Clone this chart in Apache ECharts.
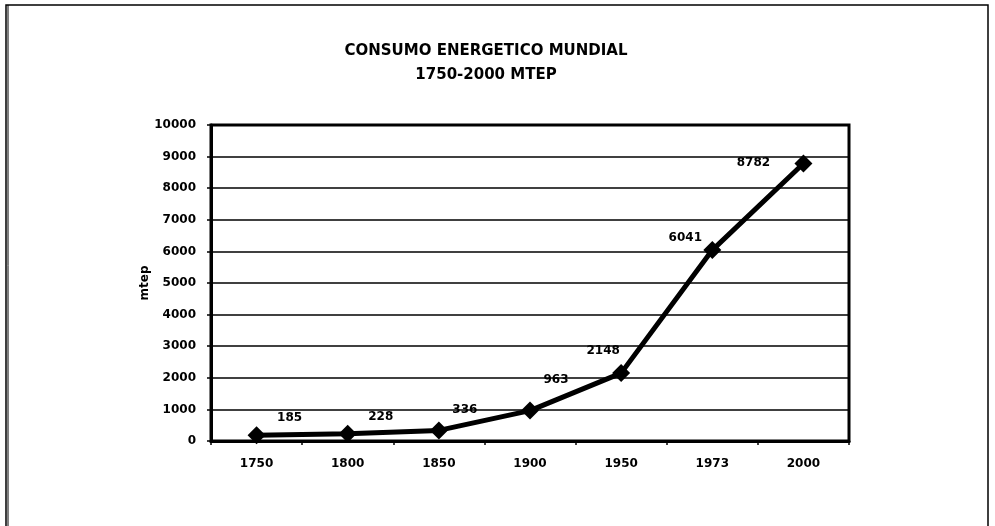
<!DOCTYPE html>
<html>
<head>
<meta charset="utf-8">
<script src="https://cdn.jsdelivr.net/npm/echarts@6/dist/echarts.min.js"></script>
<style>
  html, body { margin: 0; padding: 0; background: #fff; }
  #chart { width: 995px; height: 526px; }
</style>
</head>
<body>
<div id="chart"></div>
<script>
const years = ['1750', '1800', '1850', '1900', '1950', '1973', '2000'];
const consumo = [185, 228, 336, 963, 2148, 6041, 8782];
const yTicks = [0, 1000, 2000, 3000, 4000, 5000, 6000, 7000, 8000, 9000, 10000];

// where each value label sits relative to its marker
const labelOffsets = [[33, -17], [33, -17], [26, -21], [26, -31], [-18, -22], [-27, -12], [-50, -1]];

const chart = echarts.init(document.getElementById('chart'));

const font = 'DejaVu Sans, Arial, sans-serif';

chart.setOption({
  animation: false,
  backgroundColor: '#fff',
  textStyle: { fontFamily: font },
  title: {
    text: 'CONSUMO ENERGETICO MUNDIAL\n1750-2000 MTEP',
    left: 481,
    top: 34,
    textAlign: 'center',
    textStyle: { fontSize: 15, fontWeight: 'bold', color: '#000', lineHeight: 24, fontFamily: font }
  },
  graphic: [
    { type: 'rect', shape: { x: 6, y: 5, width: 982, height: 530 }, style: { fill: 'none', stroke: '#000', lineWidth: 1.5 } },
    { type: 'line', shape: { x1: 8, y1: 5, x2: 8, y2: 526 }, style: { stroke: '#000', lineWidth: 1 } }
  ],
  grid: {
    left: 211, right: 146, top: 125, bottom: 85,
    show: true, borderColor: '#000', borderWidth: 3, backgroundColor: 'transparent'
  },
  xAxis: {
    type: 'category',
    data: years,
    boundaryGap: true,
    axisLine: { lineStyle: { color: '#000', width: 3 } },
    axisTick: { show: true, length: 4, lineStyle: { color: '#000', width: 1.5 } },
    axisLabel: { color: '#000', fontSize: 12, fontWeight: 'bold', margin: 17 },
    splitLine: { show: false }
  },
  yAxis: {
    type: 'value',
    min: yTicks[0],
    max: yTicks[yTicks.length - 1],
    interval: 1000,
    name: 'mtep',
    nameLocation: 'middle',
    nameGap: 60,
    nameMoveOverlap: false,
    nameTextStyle: { color: '#000', fontSize: 12, fontWeight: 'bold' },
    axisLine: { show: true, lineStyle: { color: '#000', width: 3 } },
    axisTick: { show: true, length: 4, lineStyle: { color: '#000', width: 1.5 } },
    axisLabel: { color: '#000', fontSize: 12, fontWeight: 'bold', margin: 15, formatter: v => String(v) },
    splitLine: { show: true, lineStyle: { color: '#000', width: 1.5 } }
  },
  series: [
    {
      type: 'line',
      data: consumo.map((v, i) => ({
        value: v,
        label: { offset: labelOffsets[i] }
      })),
      symbol: 'diamond',
      symbolSize: 18,
      lineStyle: { color: '#000', width: 5 },
      itemStyle: { color: '#000' },
      label: {
        show: true,
        position: 'inside',
        color: '#000',
        fontSize: 12,
        fontWeight: 'bold'
      },
      z: 5
    }
  ]
});
</script>
</body>
</html>
